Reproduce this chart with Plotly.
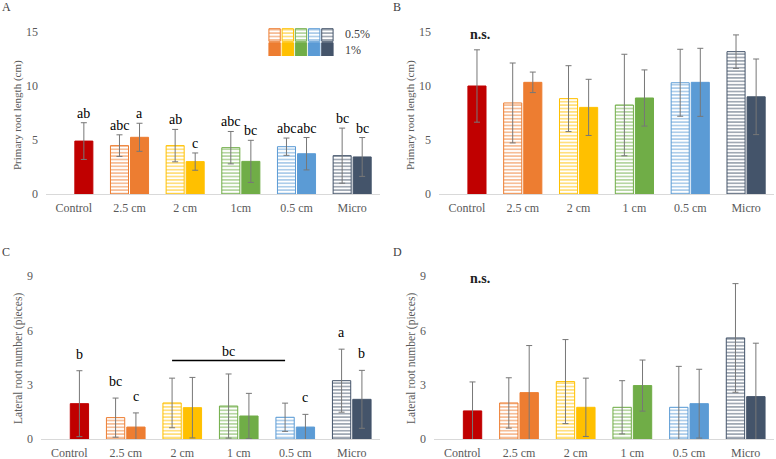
import plotly.graph_objects as go

# ---- data ----
categories_a = ["Control", "2.5 cm", "2 cm", "1cm", "0.5 cm", "Micro"]
categories = ["Control", "2.5 cm", "2 cm", "1 cm", "0.5 cm", "Micro"]

# A: primary root length (cm), series 0.5% (striped) and 1% (solid)
a_half = [None, 4.48, 4.48, 4.29, 4.38, 3.55]
a_half_sd = [None, 1.0, 1.5, 1.5, 0.8, 2.55]
a_one = [4.9, 5.25, 3.0, 3.02, 3.73, 3.43]
a_one_sd = [1.7, 1.3, 0.8, 1.95, 1.5, 1.8]
a_half_letters = ["", "abc", "ab", "abc", "abc", "bc"]
a_one_letters = ["ab", "a", "c", "bc", "abc", "bc"]

# B: primary root length (cm)
b_half = [None, 8.43, 8.83, 8.24, 10.3, 13.18]
b_half_sd = [None, 3.7, 3.05, 4.7, 3.1, 1.55]
b_one = [10.0, 10.34, 8.02, 8.89, 10.34, 9.0]
b_one_sd = [3.35, 0.95, 2.6, 2.6, 3.15, 3.5]

# C: lateral root number (pieces)
c_half = [None, 1.18, 1.99, 1.82, 1.2, 3.22]
c_half_sd = [None, 1.08, 1.37, 1.77, 0.78, 1.74]
c_one = [1.95, 0.66, 1.73, 1.27, 0.66, 2.19]
c_one_sd = [1.82, 0.78, 1.67, 1.25, 0.7, 1.6]
c_half_letters = ["", "bc", "", "", "", "a"]
c_one_letters = ["b", "c", "", "", "c", "b"]
c_bracket_y = 4.33

# D: lateral root number (pieces)
d_half = [None, 1.99, 3.17, 1.75, 1.75, 5.58]
d_half_sd = [None, 1.39, 2.32, 1.47, 2.26, 3.0]
d_one = [1.55, 2.56, 1.75, 2.95, 1.95, 2.34]
d_one_sd = [1.6, 2.6, 1.61, 1.41, 1.9, 2.95]

legend_labels = ["0.5%", "1%"]

# ---- style ----
red = "#C00000"
palette = ["#ED7D31", "#FFC000", "#70AD47", "#5B9BD5", "#44546A"]
half_colors = ["#ffffff"] + palette
one_colors = [red] + palette
font_family = "Liberation Serif"
tick_gray = "#595959"
err_gray = "#777777"
bar_gap = 0.28
offset = (1 - bar_gap) / 4

W, H = 776, 459


def px_x(v):
    return v / W


def px_y(v):
    return 1 - v / H


fig = go.Figure()

stripes = dict(shape="-", bgcolor="white", size=3.4, solidity=0.5)


def add_panel(n, cats, half, half_sd, one, one_sd):
    xa = "x" if n == 1 else f"x{n}"
    ya = "y" if n == 1 else f"y{n}"
    fig.add_trace(go.Bar(
        x=cats, y=half, xaxis=xa, yaxis=ya, showlegend=False,
        marker=dict(color="white", line=dict(color=half_colors, width=1),
                    pattern=dict(stripes, fgcolor=half_colors)),
        error_y=dict(type="data", array=half_sd, color=err_gray, thickness=1, width=3),
    ))
    fig.add_trace(go.Bar(
        x=cats, y=one, xaxis=xa, yaxis=ya, showlegend=False,
        marker=dict(color=one_colors, line=dict(color=one_colors, width=1)),
        error_y=dict(type="data", array=one_sd, color=err_gray, thickness=1, width=3),
    ))


add_panel(1, categories_a, a_half, a_half_sd, a_one, a_one_sd)
add_panel(2, categories, b_half, b_half_sd, b_one, b_one_sd)
add_panel(3, categories, c_half, c_half_sd, c_one, c_one_sd)
add_panel(4, categories, d_half, d_half_sd, d_one, d_one_sd)

# legend swatches drawn as bars on a tiny axis
fig.add_trace(go.Bar(
    x=list(range(5)), y=[0.9] * 5, base=[1.05] * 5, xaxis="x5", yaxis="y5",
    width=0.86, offset=-0.43, showlegend=False, hoverinfo="skip",
    marker=dict(color="white", line=dict(color=palette, width=1),
                pattern=dict(stripes, fgcolor=palette)),
))
fig.add_trace(go.Bar(
    x=list(range(5)), y=[0.95] * 5, base=[0] * 5, xaxis="x5", yaxis="y5",
    width=0.86, offset=-0.43, showlegend=False, hoverinfo="skip",
    marker=dict(color=palette, line=dict(color=palette, width=1)),
))

annotations = []


def letters(n, half, half_sd, half_l, one, one_sd, one_l, shift):
    xa = "x" if n == 1 else f"x{n}"
    ya = "y" if n == 1 else f"y{n}"
    for i in range(6):
        for v, s, t, dx in ((half[i], half_sd[i], half_l[i], -offset),
                            (one[i], one_sd[i], one_l[i], offset)):
            if t:
                annotations.append(dict(
                    x=i + dx, y=v + s, xref=xa, yref=ya, text=t, showarrow=False,
                    yanchor="bottom", yshift=shift,
                    font=dict(family=font_family, size=14, color="black")))


letters(1, a_half, a_half_sd, a_half_letters, a_one, a_one_sd, a_one_letters, 0)
letters(3, c_half, c_half_sd, c_half_letters, c_one, c_one_sd, c_one_letters, 7)

# "bc" over the bracket in C
annotations.append(dict(x=3 - offset, y=c_bracket_y, xref="x3", yref="y3", text="bc",
                        showarrow=False, yanchor="bottom", yshift=0,
                        font=dict(family=font_family, size=14, color="black")))
shapes = [dict(type="line", xref="x3", yref="y3", x0=2 - offset, x1=4 - offset,
               y0=c_bracket_y, y1=c_bracket_y, line=dict(color="black", width=1.5))]

# n.s. labels
annotations.append(dict(x=0.23, y=14.8, xref="x2", yref="y2", text="<b>n.s.</b>",
                        showarrow=False, font=dict(family=font_family, size=14, color="#222")))
annotations.append(dict(x=0.31, y=8.84, xref="x4", yref="y4", text="<b>n.s.</b>",
                        showarrow=False, font=dict(family=font_family, size=14, color="#222")))

# panel letters
for lab, (x, y) in zip("ABCD", [(7, 7), (397, 7), (6, 252), (398, 252)]):
    annotations.append(dict(x=px_x(x), y=px_y(y), xref="paper", yref="paper", text=lab,
                            showarrow=False, xanchor="center", yanchor="middle",
                            font=dict(family=font_family, size=12, color="#404040")))

# y axis titles
for txt, (x, y), size in [("Primary root length (cm)", (18, 115), 11),
                          ("Primary root length (cm)", (411, 115), 11),
                          ("Lateral root number (pieces)", (18, 359), 11.5),
                          ("Lateral root number (pieces)", (411, 359), 11.5)]:
    annotations.append(dict(x=px_x(x), y=px_y(y), xref="paper", yref="paper", text=txt,
                            textangle=-90, showarrow=False, xanchor="center", yanchor="middle",
                            font=dict(family=font_family, size=size, color=tick_gray)))

# legend text
for txt, y in zip(legend_labels, [34, 50]):
    annotations.append(dict(x=px_x(343), y=px_y(y), xref="paper", yref="paper", text=txt,
                            showarrow=False, xanchor="left", yanchor="middle",
                            font=dict(family=font_family, size=12, color="#404040")))

tickfont = dict(family=font_family, size=12, color=tick_gray)


def xaxis(domain, anchor):
    return dict(domain=domain, anchor=anchor, type="category", range=[-0.5, 5.5],
                showline=True, linecolor="#D9D9D9", linewidth=1, ticks="",
                showgrid=False, zeroline=False, tickfont=tickfont, ticklabelstandoff=3,
                automargin=False, fixedrange=True)


def yaxis(domain, anchor, top, step):
    return dict(domain=domain, anchor=anchor, range=[0, top], dtick=step,
                showline=False, showgrid=False, zeroline=False, ticks="",
                tickfont=tickfont, ticklabelstandoff=7, automargin=False, fixedrange=True)


top_dom = [px_y(194), px_y(32)]
bot_dom = [px_y(439), px_y(276)]

fig.update_layout(
    width=W, height=H,
    margin=dict(l=0, r=0, t=0, b=0),
    paper_bgcolor="white", plot_bgcolor="white",
    barmode="group", bargap=bar_gap, bargroupgap=0.1,
    xaxis=xaxis([px_x(46), px_x(380)], "y"),
    yaxis=yaxis(top_dom, "x", 15, 5),
    xaxis2=xaxis([px_x(439), px_x(774)], "y2"),
    yaxis2=yaxis(top_dom, "x2", 15, 5),
    xaxis3=xaxis([px_x(41), px_x(380)], "y3"),
    yaxis3=yaxis(bot_dom, "x3", 9, 3),
    xaxis4=xaxis([px_x(434), px_x(774)], "y4"),
    yaxis4=yaxis(bot_dom, "x4", 9, 3),
    xaxis5=dict(domain=[px_x(268), px_x(334)], anchor="y5", range=[-0.5, 4.5],
                visible=False, fixedrange=True, automargin=False),
    yaxis5=dict(domain=[px_y(56), px_y(28)], anchor="x5", range=[0, 2],
                visible=False, fixedrange=True, automargin=False),
    annotations=annotations,
    shapes=shapes,
    font=dict(family=font_family),
)

# drop the default page margin so the figure sits at the window's top-left corner
fig.write_html("out.html", config={"displayModeBar": False},
               post_script="document.body.style.margin='0';"
                           "document.body.style.overflow='hidden';")
